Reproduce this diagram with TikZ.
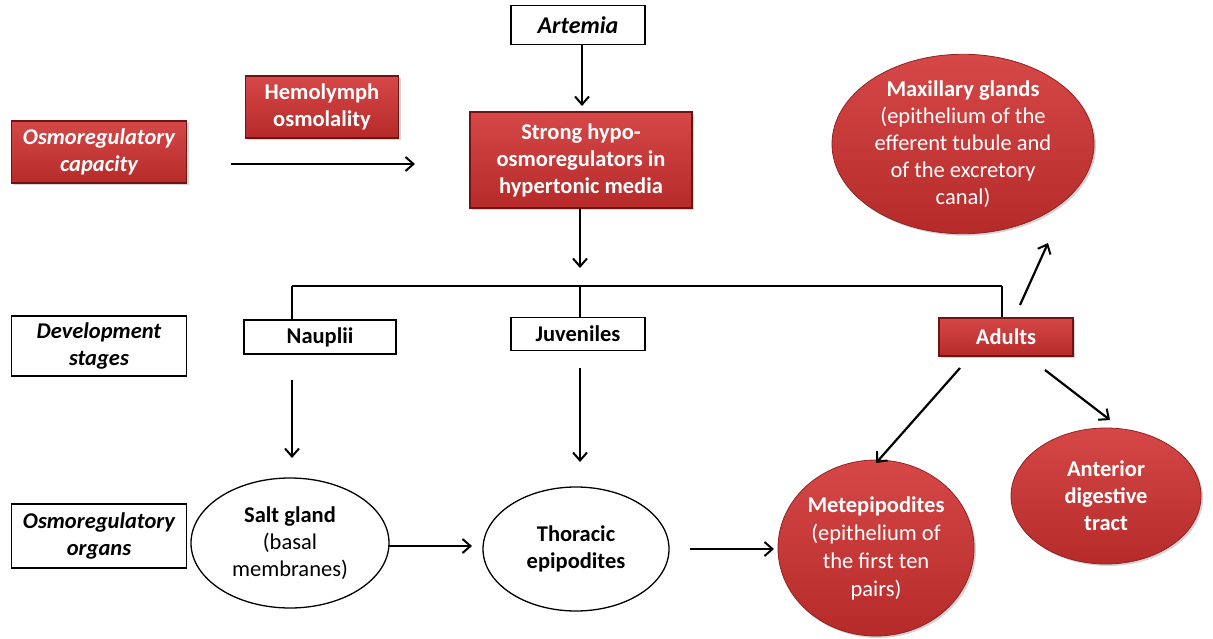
\documentclass[tikz,border=0pt]{standalone}
\usepackage{fontspec}
\setmainfont{Carlito}
\usetikzlibrary{shapes.geometric,arrows.meta,shadows}
\definecolor{redtop}{RGB}{214,72,72}
\definecolor{redbot}{RGB}{182,42,42}
\definecolor{redline}{RGB}{110,20,20}
\newcommand{\fs}{\fontsize{22.5}{27}\selectfont}
\begin{document}
\begin{tikzpicture}[x=1pt,y=-1pt,
  every node/.style={font=\fs, align=center, inner sep=0pt},
  redbox/.style={rectangle, draw=redline, line width=1.3pt, top color=redtop, bottom color=redbot, text=white, font=\fs\bfseries, drop shadow={opacity=0.35, shadow xshift=2pt, shadow yshift=-2pt}},
  whitebox/.style={rectangle, draw=black, line width=1.3pt, fill=white, font=\fs\bfseries},
  redell/.style={ellipse, draw=redbot!80!black, line width=0.8pt, top color=redtop, bottom color=redbot, text=white, drop shadow={opacity=0.35, shadow xshift=2pt, shadow yshift=-2pt}},
  whiteell/.style={ellipse, draw=black, line width=1.3pt, fill=white},
  arr/.style={-{Straight Barb[length=8pt,width=14pt,line width=2pt]}, line width=2.2pt},
  ln/.style={line width=2.2pt}]
\useasboundingbox (0,0) rectangle (1213,639);

% left column labels
\node[redbox, minimum width=175, minimum height=62, font=\fs\bfseries\itshape] (cap) at (99,152) {Osmoregulatory\\capacity};
\node[whitebox, minimum width=175, minimum height=60, font=\fs\bfseries\itshape] (dev) at (99,346) {Development\\stages};
\node[whitebox, minimum width=175, minimum height=64, font=\fs\bfseries\itshape] (org) at (99,536) {Osmoregulatory\\organs};

% top
\node[redbox, minimum width=153, minimum height=62] (hemo) at (322,107) {Hemolymph\\osmolality};
\node[whitebox, minimum width=134, minimum height=39, font=\fontsize{24}{28}\selectfont\bfseries\itshape] (art) at (578,25) {Artemia};
\node[redbox, minimum width=222, minimum height=96] (strong) at (581,160) {Strong hypo-\\osmoregulators in\\hypertonic media};

\coordinate (a1) at (231,164);
\coordinate (a2) at (415,164);
\draw[arr] (a1) -- (a2);
\draw[arr] (art.south -| 582,0) -- (582,106);
\draw[arr] (strong.south -| 580,0) -- (580,268);

% stages
\node[whitebox, minimum width=152, minimum height=34] (nau) at (320,337) {Nauplii};
\node[whitebox, minimum width=134, minimum height=33] (juv) at (578,334) {Juveniles};
\node[redbox, minimum width=134, minimum height=38] (adu) at (1006,337) {Adults};

\coordinate (bl) at (292,286);
\coordinate (bm) at (580,286);
\coordinate (br) at (1002,286);
\draw[ln] (bl) -- (br);
\draw[ln] (bl) -- (bl |- nau.north);
\draw[ln] (bm) -- (bm |- juv.north);
\draw[ln] (br) -- (br |- adu.north);

% organs
\node[whiteell, minimum width=198, minimum height=130] (salt) at (290,543) {\textbf{Salt gland}\\(basal\\membranes)};
\node[whiteell, minimum width=186, minimum height=124] (thor) at (576,549) {\textbf{Thoracic}\\\textbf{epipodites}};
\node[redell, minimum width=196, minimum height=176, font=\fontsize{22.5}{28}\selectfont] (met) at (876,548) {\textbf{Metepipodites}\\(epithelium of\\the first ten\\pairs)};
\node[redell, minimum width=190, minimum height=136] (ant) at (1106,496) {\textbf{Anterior}\\\textbf{digestive}\\\textbf{tract}};
\node[redell, minimum width=262, minimum height=176] (max) at (963,144) {\textbf{Maxillary glands}\\(epithelium of the\\efferent tubule and\\of the excretory\\canal)};

\draw[arr] (292,380) -- (292,458);
\draw[arr] (580,368) -- (580,462);
\draw[arr] (388,546) -- (472,546);
\draw[arr] (690,549) -- (774,549);
\draw[arr] (1020,305) -- (1048,243);
\draw[arr] (960,368) -- (876,463);
\draw[arr] (1045,370) -- (1110,420);
\end{tikzpicture}
\end{document}
